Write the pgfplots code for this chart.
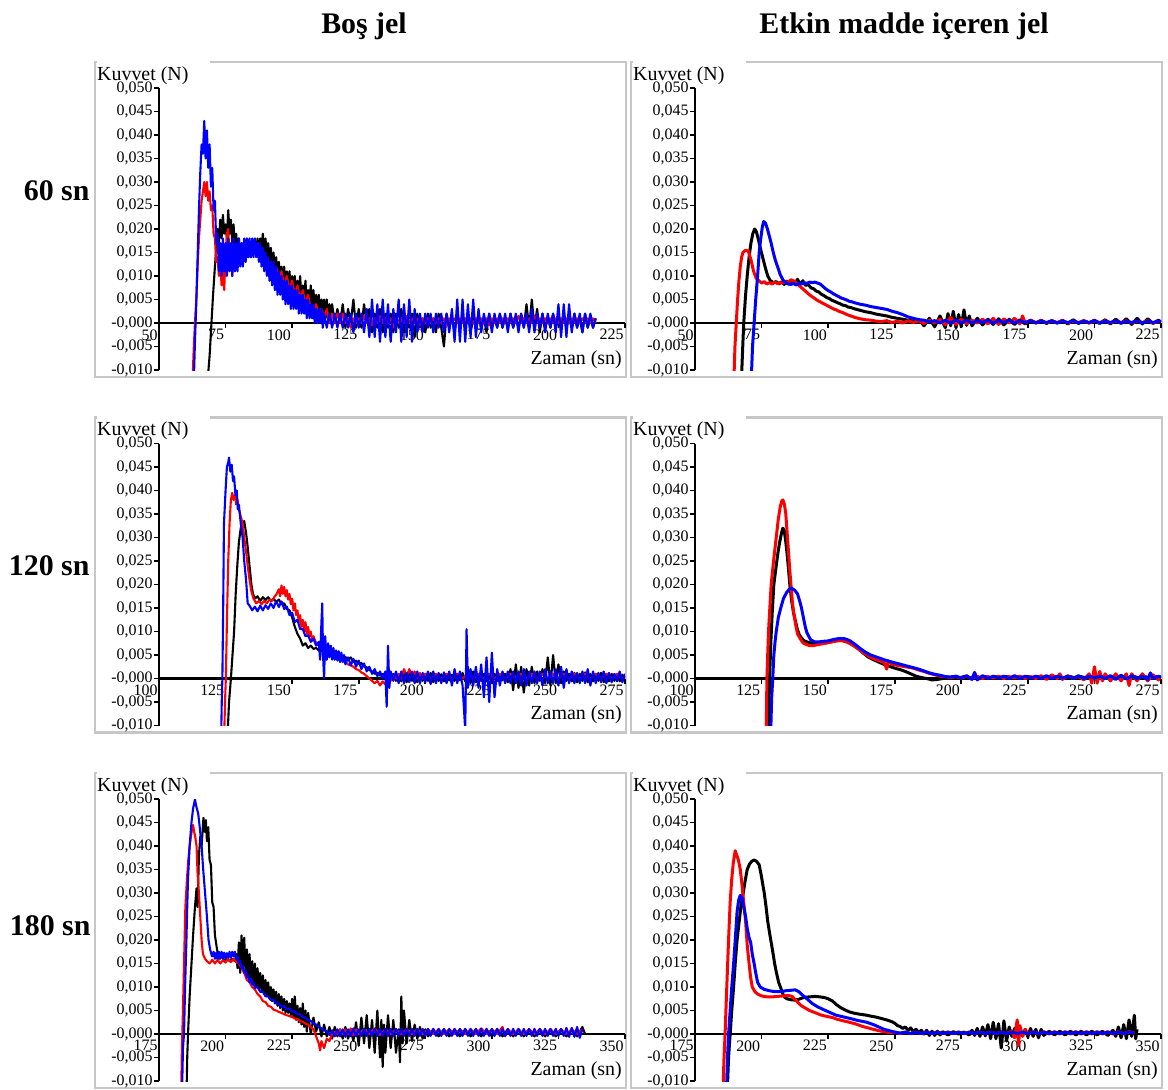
\documentclass[border=0pt]{standalone}
\usepackage{pgfplots}
\pgfplotsset{compat=1.18}
\usepackage{fontspec}
\setmainfont{Liberation Serif}
\pgfplotsset{
 panel/.style={scale only axis, width=466bp, height=282bp, anchor=south west,
  ymin=-10, ymax=50, axis x line=middle, axis y line=left,
  axis line style={-, line width=2.2bp, black},
  hide obscured x ticks=false, hide obscured y ticks=false,
  xtick align=outside, ytick align=outside, major tick length=5bp,
  every tick/.style={black, line width=1.6bp},
  ytick={-10,-5,0,5,10,15,20,25,30,35,40,45,50},
  yticklabels={{-0,010},{-0,005},{-0,000},{0,005},{0,010},{0,015},{0,020},{0,025},{0,030},{0,035},{0,040},{0,045},{0,050}},
  yticklabel style={font=\fontsize{16}{16}\selectfont, anchor=east, inner sep=1.2bp},
  xticklabel style={font=\fontsize{16}{16}\selectfont, anchor=north east, inner sep=1.2bp},
  clip=true},
 kk/.style={black, line width=2.1bp, line join=round},
 rr/.style={red, line width=2.1bp, line join=round},
 bb/.style={blue, line width=2.1bp, line join=round},
 ks/.style={black, line width=3bp, line join=round},
 rs/.style={red, line width=3bp, line join=round},
 bs/.style={blue, line width=3bp, line join=round},
}
\newcommand{\frm}[2]{%
 \draw[black!22, line width=2.5bp] (#1bp,#2bp) rectangle ++(531bp,-315bp);
 \fill[white] ($(#1bp,#2bp)+(1.5bp,1.6bp)$) rectangle ++(113bp,-3.2bp);}
\usetikzlibrary{calc}
\begin{document}
\begin{tikzpicture}
\path (0,0) rectangle (1168bp,-1090bp);
% frames
\frm{95}{-62}\frm{631}{-62}
\frm{95}{-417.5}\frm{631}{-417.5}
\frm{95}{-773}\frm{631}{-773}
% titles
\node[font={\fontsize{30}{36}\selectfont\bfseries}, anchor=base] at (364bp,-33bp) {Boş jel};
\node[font={\fontsize{30}{36}\selectfont\bfseries}, anchor=base] at (904bp,-33bp) {Etkin madde içeren jel};
\node[font={\fontsize{30}{36}\selectfont\bfseries}, anchor=base east] at (93bp,-200bp) {60 sn};
\node[font={\fontsize{30}{36}\selectfont\bfseries}, anchor=base east] at (93bp,-575bp) {120 sn};
\node[font={\fontsize{30}{36}\selectfont\bfseries}, anchor=base east] at (94bp,-935bp) {180 sn};
% axis labels
\foreach \c in {0,536}{
 \foreach \r in {0,355.5,711}{
  \node[font=\fontsize{20}{24}\selectfont, anchor=base west, inner sep=0pt] at ({(97+\c)*1bp},{-(80+\r)*1bp}) {Kuvvet (N)};
  \node[font=\fontsize{20}{24}\selectfont, anchor=base east, inner sep=0pt] at ({(622+\c)*1bp},{-(364+\r)*1bp}) {Zaman (sn)};
 }}
%================ Panel 1 =================
\begin{axis}[panel, at={(159bp,-370bp)}, xmin=50, xmax=225, xtick={50,75,...,225}, xticklabels={50,75,100,125,150,175,200,225}]
\addplot[kk] coordinates {(68,-14)(69,-7)(69.7,0)(70.3,6)(71,12)(71.5,16)(72,20)(72.5,17)(73,22)(73.5,18)(74,23)(74.5,19)(75,21)(75.5,18)(76,24)(76.5,19)(77,22)(77.5,17)(78,21)(78.5,16)(79,19)(79.5,14)(80,18)(80.5,14)(81,17)(81.5,14)(82,17)(82.5,13)(83,16)(83.5,14)(84,17)(84.5,14)(85,17)(85.5,15)(86,17)(86.5,15)(87,18)(87.5,15)(88,18)(88.5,16)(89,19)(89.5,15)(90,18)(90.5,14)(91,17)(91.5,13)(92,16)(92.5,12)(93,15)(93.5,11)(94,14)(94.5,10)(95,13)(95.5,10)(96,12)(96.5,9)(97,12)(97.5,8)(98,11)(98.5,8)(99,11)(99.5,7)(100,10)(100.5,7)(101,10)(101.5,6)(102,9)(102.5,6)(103,10)(103.5,5)(104,8)(104.5,5)(105,9)(105.5,4)(106,7)(106.5,4)(107,8)(107.5,3)(108,7)(108.5,3)(109,6)(109.5,2)(110,6)(110.5,2)(111,5)(111.5,2)(112,5)(112.5,1)(113,5)(113.5,1)(114,4)(114.5,0)(115,4)(116,0)(117,3)(118,0)(119,4)(120,-1)(121,3)(122,0)(123,5)(124,-1)(125,3)(126,-1)(127,4)(128,0)(129,3)(130,-2)(131,2)(132,-1)(133,3)(134,-2)(135,2)(136,-1)(137,2)(138,-2)(139,2)(140,-1)(141,3)(142,-2)(143,1)(144,-1)(145,2)(146,-3)(147,2)(148,-1)(149,1)(150,-2)(151,2)(152,-1)(153,1)(154,-2)(155,2)(156,-1)(157,-5)(158,2)(159,-1)(160,1)(161,-2)(162,2)(163,-1)(164,1)(165,-1)(166,2)(167,-2)(168,1)(169,-1)(170,2)(171,-1)(172,1)(173,-2)(174,2)(175,-1)(176,1)(177,-1)(178,2)(179,-1)(180,1)(181,-1)(182,2)(183,-1)(184,1)(185,-1)(186,2)(187,-1)(188,4)(189,-1)(190,5)(191,-1)(192,3)(193,-2)(194,2)(195,-1)(196,1)(197,-1)(198,2)(199,-1)(200,1)(201,-1)(202,2)(203,-1)(204,1)(205,-1)(206,2)(207,-1)(208,1)(209,-2)(210,2)(211,-1)(212,1)(213,-1)(214,1)};
\addplot[rr] coordinates {(62.5,-14)(63,-6)(63.5,0)(64,5)(64.5,12)(65,18)(65.5,22)(66,26)(66.5,28)(67,30)(67.5,27)(68,30)(68.5,26)(69,28)(69.5,24)(70,25)(70.5,19)(71,18)(71.5,13)(72,14)(72.5,10)(73,13)(73.5,8)(74,12)(74.5,7)(75,15)(75.5,19)(76,20)(76.5,14)(77,16)(77.5,10)(78,14)(78.5,11)(79,15)(79.5,12)(80,16)(80.5,13)(81,16)(81.5,14)(82,17)(82.5,14)(83,17)(83.5,15)(84,17)(84.5,15)(85,17)(85.5,15)(86,17)(86.5,15)(87,17)(87.5,14)(88,16)(88.5,13)(89,15)(89.5,12)(90,14)(91,11)(92,13)(93,10)(94,12)(95,9)(96,11)(97,8)(98,10)(99,7)(100,9)(101,6)(102,8)(103,5)(104,7)(105,4)(106,6)(107,3)(108,1)(109,4)(110,2)(111,3)(112,1)(113,3)(114,0)(115,2)(116,0)(117,2)(118,0)(119,2)(120,0)(121,1)(122,-1)(123,1)(124,0)(125,1)(126,0)(127,1.5)(128,0)(129,1)(130,-0.5)(131,1)(132,0)(133,1.5)(134,0)(135,1)(136,0)(137,1)(138,-1)(139,1)(140,0)(141,1)(142,0)(143,1.5)(144,0)(145,1)(146,0)(147,1)(148,-0.5)(149,1)(150,0)(151,1)(152,0)(153,1)(154,0)(155,1)(156,0)(157,1)(158,-0.5)(159,1)(160,0)(161,1)(162,0)(163,1)(164,0)(165,1)(166,0)(167,1)(168,0)(169,1)(170,0)(171,1)(172,0)(173,1)(174,-0.5)(175,1)(176,0)(177,1)(178,0)(179,1)(180,0)(181,1)(182,0)(183,1)(184,0)(185,1.5)(186,0)(187,1)(188,0)(189,1)(190,0)(191,1.5)(192,0)(193,1)(194,0)(195,1)(196,0)(197,1)(198,0)(199,1)(200,0)(201,1)(202,0)(203,1)(204,0)(205,1)(206,0)(207,1)(208,0)(209,1)(210,0)(211,1)(212,0)(213,1)(214,0)};
\addplot[bb] coordinates {(63,-14)(63.5,-4)(64,4)(64.5,14)(65,24)(65.5,32)(66,38)(66.5,36)(67,43)(67.5,35)(68,41)(68.5,33)(69,38)(69.5,29)(70,33)(70.5,24)(71,26)(71.5,17)(72,19)(72.5,11)(73,17)(73.5,10)(74,18)(74.5,11)(75,17)(75.5,10)(76,18)(76.5,11)(77,17)(77.5,10)(78,18)(78.5,11)(79,17)(79.5,11)(80,18)(80.5,12)(81,17)(81.5,12)(82,18)(82.5,13)(83,18)(83.5,14)(84,18)(84.5,14)(85,18)(85.5,14)(86,18)(86.5,14)(87,17)(87.5,13)(88,17)(88.5,12)(89,16)(89.5,11)(90,15)(90.5,10)(91,14)(91.5,9)(92,13)(92.5,8)(93,13)(93.5,7)(94,12)(94.5,6)(95,11)(95.5,6)(96,10)(96.5,5)(97,9)(97.5,4)(98,9)(98.5,4)(99,8)(99.5,3)(100,8)(100.5,3)(101,7)(101.5,3)(102,7)(102.5,2)(103,6)(103.5,2)(104,6)(104.5,2)(105,5)(105.5,1)(106,5)(106.5,1)(107,4)(107.5,1)(108,4)(108.5,0)(109,3)(109.5,0)(110,3)(110.5,0)(111,3)(111.5,-1)(112,2)(113,-1)(114,2)(115,-1)(116,2)(117,-1)(118,2)(119,-1)(120,2)(121,-1)(122,2)(123,-2)(124,2)(125,-1)(126,2)(127,-2)(128,3)(129,-3)(130,5)(131,-3)(132,4)(133,-4)(134,5)(135,-3)(136,4)(137,-4)(138,3)(139,-2)(140,5)(141,-4)(142,4)(143,-3)(144,5)(145,-4)(146,3)(147,-2)(148,2)(149,-2)(150,2)(151,-1)(152,2)(153,-2)(154,2)(155,-1)(156,2)(157,-2)(158,2)(159,-2)(160,3)(161,-4)(162,5)(163,-4)(164,5)(165,-4)(166,4)(167,-3)(168,5)(169,-3)(170,3)(171,-2)(172,2)(173,-1)(174,2)(175,-2)(176,2)(177,-1)(178,2)(179,-1)(180,2)(181,-2)(182,2)(183,-1)(184,2)(185,-2)(186,2)(187,-1)(188,2)(189,-2)(190,3)(191,-2)(192,2)(193,-1)(194,2)(195,-2)(196,2)(197,-1)(198,2)(199,-2)(200,4)(201,-3)(202,4)(203,-3)(204,4)(205,-2)(206,2)(207,-1)(208,2)(209,-2)(210,2)(211,-1)(212,2)(213,-1)(214,1)};
\end{axis}
%================ Panel 2 =================
\begin{axis}[panel, at={(695bp,-370bp)}, xmin=50, xmax=225, xtick={50,75,...,225}, xticklabels={50,75,100,125,150,175,200,225}]
\addplot[ks] coordinates {(67.3,-14)(68,-4)(68.3,0)(69,6)(69.6,10)(70.3,14)(71,17)(71.7,19)(72.4,20)(73,19.5)(73.7,18)(74.5,16)(75.4,14)(76.3,12)(77.3,10)(78.3,9)(79.5,8.6)(80.5,8.8)(81.5,8.3)(82.5,8.8)(83.5,8.2)(84.5,8.9)(85.5,8.3)(86.5,8.9)(87.5,8.4)(88.5,9.3)(89.5,8.2)(90.5,9)(91.5,8)(92.5,8.2)(93.5,7.5)(94.5,7.3)(95.5,6.8)(96.5,6.6)(97.5,6.1)(98.5,5.8)(99.5,5.4)(100.5,5.2)(101.5,4.8)(102.5,4.6)(103.5,4.3)(104.5,4.1)(105.5,3.8)(106.5,3.7)(107.5,3.4)(108.5,3.3)(110,3)(112,2.7)(114,2.4)(116,2.2)(118,1.9)(120,1.7)(122,1.5)(124,1.2)(126,1)(128,0.8)(130,0.6)(132,0.4)(134,0.8)(136,-0.6)(138,1)(140,-0.8)(142,1.5)(144,-1)(145,2)(146,-0.6)(147,2.5)(148,-1)(149,1.8)(150,-0.8)(151,2.8)(152,-0.5)(153,1.5)(154,-0.6)(156,1)(158,-0.4)(160,0.8)(162,-0.3)(164,0.9)(166,-0.4)(168,0.8)(170,-0.3)(172,0.7)(174,-0.2)(176,0.6)(178,0)(180,0.6)(182,-0.1)(184,0.5)(186,0)(188,0.6)(190,-0.2)(192,0.7)(194,-0.1)(196,0.5)(198,0)(200,0.6)(202,-0.1)(204,0.7)(206,-0.2)(208,0.8)(210,-0.1)(212,0.9)(214,-0.3)(216,1)(218,-0.2)(220,0.9)(222,-0.1)(224,0.6)(225,0.2)};
\addplot[rs] coordinates {(64.5,-14)(65,-5)(65.5,0)(66,5)(66.5,9)(67,12)(67.5,14)(68,15)(69,15.5)(70,15.3)(71,13.5)(72,11)(73,9.5)(74,9)(75,8.5)(76,8.8)(77,8.3)(78,8.6)(79,8.3)(80,8.7)(81,8.4)(82,8.6)(83,8.5)(84,8.8)(85,8.6)(86,9.2)(87,9)(88,8.5)(89,8)(90,7.5)(91,7)(92,6.5)(93,6)(94,5.6)(95,5.2)(96,4.8)(97,4.5)(98,4.2)(99,3.9)(100,3.6)(101,3.3)(102,3)(103,2.8)(104,2.5)(105,2.3)(106,2.1)(107,1.8)(108,1.6)(109,1.4)(110,1.2)(112,0.9)(114,0.7)(116,0.6)(118,0.4)(120,0.3)(122,0.5)(124,0.1)(126,0.4)(128,0)(130,0.5)(132,0.1)(134,0.5)(136,-0.1)(138,0.6)(140,0)(142,0.8)(144,-0.4)(146,1.2)(148,-0.3)(150,0.8)(152,-0.2)(154,0.6)(156,0)(158,0.8)(160,-0.2)(162,1)(164,-0.3)(166,0.9)(168,0)(170,1)(172,-0.2)(173,1.5)(174,0)(176,0.6)(178,0.1)(180,0.5)(182,0)(184,0.4)(186,0.1)(188,0.5)(190,0)(192,0.4)(194,0.1)(196,0.5)(198,0)(200,0.4)(202,0.1)(204,0.5)(206,0)(208,0.4)(210,0.1)(212,0.5)(214,0)(216,0.4)(218,0.1)(220,0.5)(222,0)(224,0.3)(225,0.2)};
\addplot[bs] coordinates {(71,-14)(71.6,-5)(72.2,0)(72.8,5)(73.5,10)(74.1,15)(74.7,18)(75.3,20.5)(75.8,21.6)(76.5,21.2)(77.2,20)(78,18.3)(78.6,17)(79.4,15)(80.2,13.3)(81,12)(82,10.3)(83,9.2)(84,8.6)(85,8.3)(86,8.2)(87,8.4)(88,8.1)(89,8.4)(90,8.3)(91,8.6)(92,8.4)(93,8.7)(94,8.6)(95,8.7)(96,8.5)(97,8.3)(98,7.8)(99,7.3)(100,6.9)(101,6.6)(102,6.2)(103,5.9)(104,5.6)(105,5.3)(106,5.1)(107,4.9)(108,4.6)(109,4.5)(110,4.3)(112,4)(114,3.8)(116,3.5)(118,3.3)(120,3.1)(122,2.9)(124,2.5)(126,2.2)(128,1.8)(130,1.3)(132,1)(134,0.7)(136,0.6)(138,0.2)(140,0.5)(142,0)(144,0.6)(146,-0.1)(148,0.7)(150,0)(152,0.6)(154,0)(156,0.5)(158,0.1)(160,0.6)(162,0)(164,0.5)(166,0.1)(168,0.6)(170,0)(172,0.5)(174,0.1)(176,0.5)(178,0)(180,0.4)(182,0.1)(184,0.5)(186,0)(188,0.4)(190,0.1)(192,0.5)(194,0)(196,0.4)(198,0.1)(200,0.5)(202,0)(204,0.4)(206,0.1)(208,0.5)(210,0)(212,0.4)(214,0.1)(216,0.5)(218,0)(220,0.4)(222,0.1)(224,0.4)(225,0.3)};
\end{axis}
%================ Panel 3 =================
\begin{axis}[panel, at={(159bp,-725.5bp)}, xmin=100, xmax=275, xtick={100,125,...,275}, xticklabels={100,125,150,175,200,225,250,275}]
\addplot[kk] coordinates {(125.6,-14)(126.3,-5)(127,0)(127.6,5)(128.2,10)(128.8,18)(129.4,24)(130,29)(130.7,32)(131.4,33)(132,33.5)(132.7,31)(133.3,28)(134,24)(134.7,20)(135.3,18)(136,17)(137,17.5)(138,16.5)(139,17.3)(140,16.7)(141,17.3)(142,16.5)(143,17)(144,16.3)(145,16.8)(146,15.8)(147,16)(148,14.8)(149,14.5)(150,13)(151,11)(152,9.5)(153,8.5)(154,7)(155,7.5)(156,6.5)(157,7)(158,6.3)(159,6.5)(160,6)(161,5.8)(162,6.3)(163,5.5)(164,6)(165,4.8)(166,5.3)(167,4.5)(168,5)(169,4.2)(170,4.6)(171,4)(172,4.5)(173,3.5)(174,3.8)(175,3.2)(176,3.3)(177,2.6)(178,2.4)(179,1.8)(180,1.5)(181,1)(182,1.2)(183,0.6)(184,1)(185,0.3)(186,0.8)(187,0)(188,1)(189,-0.5)(190,0.8)(191,-0.6)(192,1.2)(193,-0.8)(194,1.5)(195,-0.5)(196,1.3)(197,-0.8)(198,1)(199,-0.5)(200,1)(201,-0.5)(202,1.2)(203,-0.8)(204,1)(205,-0.5)(206,0.9)(207,-0.6)(208,1)(209,-0.4)(210,0.8)(211,-0.5)(212,1)(213,-0.4)(214,1.2)(215,-0.6)(216,2.5)(217,-1)(218,1.5)(219,-0.8)(220,1)(221,-0.5)(222,1)(223,-0.6)(224,0.8)(225,-0.4)(226,1)(227,-0.5)(228,0.8)(229,-0.4)(230,1)(231,-0.8)(232,2)(233,-2.5)(234,3)(235,-2)(236,2.5)(237,-3)(238,2)(239,-1.5)(240,2.5)(241,-1)(242,1.5)(243,-0.5)(244,2)(245,-1)(246,4.5)(247,-1.5)(248,5)(249,-1)(250,3)(251,-1)(252,1.5)(253,-0.5)(254,1)(255,-0.6)(256,1.2)(257,-0.8)(258,1)(259,-0.5)(260,1.3)(261,-0.8)(262,1)(263,-0.6)(264,1)(265,-0.5)(266,1.2)(267,-0.8)(268,1)(269,-0.6)(270,1)(271,-0.5)(272,1)(273,-0.6)(274,0.8)(275,0)};
\addplot[rr] coordinates {(124.4,-14)(124.8,-5)(125.1,0)(125.5,12)(126,25)(126.5,33)(127,38)(127.5,39.5)(128,38)(128.5,39)(129,37)(129.5,38)(130,36)(130.7,34.5)(131.4,33)(132,30)(132.7,27)(133.3,24)(134,21)(134.7,18.5)(135.5,17)(136.5,16)(137.5,16.5)(138.5,15.8)(139.5,16.5)(140.5,16)(141.5,16.8)(142.5,16.5)(143.5,17.5)(144.2,18)(145,19)(145.5,17.5)(146,19.8)(146.5,18)(147,19.5)(147.5,17.5)(148,18.8)(148.5,16.8)(149,18)(149.5,15.8)(150,17)(150.5,14.5)(151,16)(151.5,13.5)(152,14.5)(152.5,12)(153,13.5)(153.5,11)(154,12.5)(154.5,10)(155,12)(155.5,9.5)(156,11)(156.5,9)(157,10)(157.5,8)(158,9)(159,7.5)(160,7)(161,6.5)(162,6.5)(163,5.8)(164,5.5)(165,5)(166,4.8)(167,4.5)(168,4.2)(169,3.8)(170,3.5)(171,3)(172,2.8)(173,2.5)(174,2)(175,1.8)(176,1.3)(177,1)(178,0.5)(179,0)(180,-0.5)(181,-1)(182,-0.5)(183,-1.5)(184,-0.6)(185,-1.3)(186,0)(187,-0.5)(188,0.5)(189,0)(190,1)(191,0)(192,2)(193,0.5)(194,2)(195,0.5)(196,1.5)(197,0)(198,1.2)(199,0)(200,1)(202,0)(204,1)(206,0)(208,1)(210,0)(212,1)(214,0)(216,1)(218,0)(220,1)(222,0)(224,1)(226,0)(228,1)(230,0)(232,1)(234,0)(236,1)(238,0)(240,1)(242,0)(244,1)(246,0)(248,1)(250,0)(252,1)(254,0)(256,1)(258,0)(260,1)(262,0)(264,1)(266,0)(268,1)(270,0)(272,1)(274,0)(275,0.5)};
\addplot[bb] coordinates {(123.3,-14)(123.6,-4)(123.8,0)(124.1,15)(124.4,33)(125,40)(125.5,45)(126,46)(126.3,47)(126.8,44)(127.3,45.5)(127.8,42)(128.2,43)(128.7,39)(129.2,40)(129.6,36)(130,37)(130.7,33)(131.4,30)(132,25)(132.7,21)(133.3,16)(134,15.5)(135,14.5)(136,15.3)(137,14.3)(138,15.5)(139,14.5)(140,15.6)(141,14.8)(142,16)(143,15)(144,16.5)(145,15.2)(146,16.4)(147,14.8)(148,15.3)(149,13.5)(150,14)(151,12)(152,12.5)(153,10.5)(154,10.5)(155,9)(156,9.2)(157,7.8)(158,8.5)(159,7)(160,7.8)(160.5,4)(161,12)(161.3,16)(161.6,5)(162,0)(162.4,9)(163,4)(163.5,7.5)(164,4.5)(164.5,7)(165,4)(165.5,6.5)(166,4)(166.5,6)(167,3.8)(167.5,5.8)(168,3.5)(168.5,5.5)(169,3.5)(169.5,5)(170,3)(171,4.5)(172,2.8)(173,4.2)(174,2.5)(175,3.8)(176,2)(177,3.2)(178,1.5)(179,2.5)(180,1)(181,2)(182,0.5)(183,1.5)(184,0)(185,1.5)(185.5,-6)(186,7)(186.5,-2)(187,1.5)(188,-0.5)(189,1.5)(190,-1)(191,1.5)(192,-1)(193,1.2)(194,-0.8)(195,1.5)(196,-1)(197,1.5)(198,-1)(199,1.2)(200,-0.8)(201,1.5)(202,-1.2)(203,1.5)(204,-1)(205,1.2)(206,-1)(207,1.3)(208,-1)(209,1.5)(210,-1.5)(211,2)(212,-1)(213,1.5)(214,-1.5)(215,-11)(215.5,10.5)(216,-2)(217,2)(218,-1.5)(219,2.5)(220,-2)(221,3)(222,-4)(223,4.5)(224,-5)(225,5.5)(226,-4)(227,2)(228,-1.5)(229,1.5)(230,-1)(231,1.5)(232,-1)(233,1.5)(234,-1)(235,1.5)(236,-1.5)(237,2)(238,-1.5)(239,1.5)(240,-1)(241,1.5)(242,-1)(243,1.5)(244,-1.5)(245,2)(246,-1)(247,1.5)(248,-1)(249,2)(250,-1.5)(251,2.5)(252,-2)(253,2)(254,-1)(255,1.5)(256,-1)(257,1.2)(258,-1)(259,1.5)(260,-1)(261,2)(262,-1.5)(263,1.5)(264,-1)(265,1.2)(266,-0.8)(267,1.5)(268,-1)(269,1.2)(270,-0.8)(271,1)(272,-0.6)(273,1.5)(274,-0.8)(275,1)};
\end{axis}
%================ Panel 4 =================
\begin{axis}[panel, at={(695bp,-725.5bp)}, xmin=100, xmax=275, xtick={100,125,...,275}, xticklabels={100,125,150,175,200,225,250,275}]
\addplot[ks] coordinates {(127.5,-14)(128,0)(128.5,8)(129,14)(129.6,20)(130.5,24)(131.2,27)(131.8,29)(132.5,31)(133,32)(133.5,31.5)(134,29.5)(134.4,27.5)(135,24)(135.6,20)(136.3,16.5)(137,14)(137.8,12)(138.5,10.3)(139.2,9.3)(140,8.6)(141,8)(142,7.8)(143,7.6)(145,7.5)(147,7.6)(149,7.6)(151,7.8)(153,8)(155,8.1)(157,7.8)(159,7.3)(161,6.5)(163,5.5)(165,4.6)(167,4)(169,3.5)(171,3)(173,2.6)(175,2.2)(177,1.9)(179,1.5)(181,1)(183,0.5)(185,0.2)(187,0)(189,-0.3)(191,-0.2)(193,0)(195,0.2)(197,0.4)(199,0.1)(201,0.4)(203,0.1)(205,0.4)(207,0.1)(209,0.4)(211,0.1)(213,0.4)(215,0.1)(217,0.4)(219,0.1)(221,0.4)(223,0.1)(225,0.4)(227,0.1)(229,0.4)(231,0.1)(233,0.4)(235,0.1)(237,0.4)(239,0.1)(241,0.4)(243,0.1)(245,0.4)(247,0.1)(249,0.4)(251,0.1)(253,0.4)(255,0.1)(257,0.4)(259,0.1)(261,0.4)(263,0.1)(265,0.4)(267,0.1)(269,0.4)(271,0.1)(273,0.4)(275,0.2)};
\addplot[rs] coordinates {(126.7,-14)(127,0)(127.3,5)(127.6,10)(128.1,15)(128.6,20)(129.5,25)(130.5,30)(131.3,34)(132,36.5)(132.6,37.8)(133,38)(133.6,37)(134.1,35)(134.6,31)(135.1,27)(135.6,23)(136.1,19.5)(136.6,16)(137.2,13.5)(137.8,11.5)(138.5,9.5)(139.5,8.5)(140.5,7.6)(141.5,7.3)(143,7)(144.5,7)(146,7.2)(148,7.4)(150,7.6)(152,7.9)(154,8.1)(156,8)(158,7.5)(160,6.8)(162,6)(164,5.2)(166,4.5)(168,4)(170,3.6)(171,3.4)(172,2)(172.5,3.8)(174,3)(176,2.8)(178,2.6)(180,2.4)(182,2.2)(184,1.8)(186,1.5)(188,1.1)(190,0.8)(192,0.5)(194,0.4)(196,0.2)(198,0.4)(200,0.1)(202,0.5)(204,0)(206,0.5)(208,0)(210,0.4)(212,0.1)(214,0.5)(216,0)(218,0.4)(220,0.1)(222,0.5)(224,0)(226,0.4)(228,0)(230,0.6)(232,-0.2)(234,0.8)(236,0)(237,1)(238,-0.2)(240,0.6)(242,0)(244,0.5)(246,-0.3)(248,1)(249,-1)(250,2.5)(251,-1)(252,1.5)(253,-0.5)(254,1)(256,-0.5)(258,1)(260,-0.5)(262,1)(263,-1.5)(264,1)(266,-0.5)(268,1)(270,-0.5)(272,0.8)(274,-0.3)(275,0.5)};
\addplot[bs] coordinates {(128.3,-14)(128.8,-4)(129.2,0)(129.6,5)(130.1,8)(130.5,10)(131.3,13)(132.2,15)(133.2,17)(134.4,18.3)(135.4,19)(136.3,19.2)(137.4,18.8)(138.5,18)(139.3,16.5)(140,15)(140.7,13)(141.4,11)(142,9.8)(142.7,9)(143.5,8.2)(145,7.8)(146.5,7.8)(148,7.9)(150,8)(152,8.3)(154,8.5)(156,8.5)(158,8.1)(160,7.3)(162,6.4)(164,5.6)(166,5)(168,4.6)(170,4.2)(172,3.8)(174,3.5)(176,3.2)(178,2.9)(180,2.6)(182,2.3)(184,2)(186,1.6)(188,1.2)(190,0.9)(192,0.7)(194,0.4)(196,0.3)(198,0.5)(200,0.1)(202,0.6)(204,-0.2)(205,1.3)(206,-0.3)(208,0.6)(210,0)(212,0.5)(214,0.1)(216,0.5)(218,0)(220,0.6)(222,0)(224,0.5)(226,0.1)(228,0.5)(230,0)(232,0.6)(234,0)(236,0.5)(238,0.1)(240,0.5)(242,0)(244,0.6)(246,0)(248,0.5)(250,0.1)(252,0.5)(254,0)(256,0.6)(258,-0.2)(260,0.7)(262,-0.1)(264,0.6)(266,0)(268,0.5)(270,-0.2)(271,1.2)(272,0)(274,0.5)(275,0.3)};
\end{axis}
%================ Panel 5 =================
\begin{axis}[panel, at={(159bp,-1081bp)}, xmin=175, xmax=350, xtick={175,200,...,350}, xticklabels={175,200,225,250,275,300,325,350}]
\addplot[kk] coordinates {(185.3,-14)(185.6,-5)(185.9,0)(186.5,8)(187.2,15)(187.8,21)(188.5,27)(189.1,31)(189.5,27)(190,38)(190.5,42)(191,40)(191.7,46)(192.2,43)(192.6,45.5)(193,41)(193.5,44)(194,37)(194.5,36)(195,28)(195.5,27)(196,21)(196.8,18)(197.5,16)(198.5,16.5)(199.5,15.5)(200.5,16.3)(201.5,15.5)(202.5,16)(203.5,15.5)(204,17)(204.5,14)(205,19.5)(205.5,13)(206,21)(206.5,14)(207,20.5)(207.5,13)(208,18)(208.5,12)(209,17)(209.5,11.5)(210,15.5)(210.5,10.5)(211,15)(211.5,10)(212,14)(212.5,9.5)(213,13)(213.5,9)(214,12.5)(214.5,8.5)(215,11.5)(215.5,8)(216,11)(216.5,7.5)(217,10)(217.5,7)(218,9.5)(218.5,6.5)(219,9)(219.5,6)(220,8.5)(220.5,5.5)(221,8)(221.5,5)(222,7.5)(222.5,4.5)(223,7)(223.5,4.5)(224,6.5)(224.5,4)(225,7.5)(225.5,3.5)(226,8)(226.5,3)(227,6)(227.5,2.5)(228,5.5)(228.5,2)(229,6.5)(229.5,1.5)(230,5)(230.5,0.5)(231,4.5)(232,0)(233,3.5)(234,0.5)(235,2.5)(236,-0.5)(237,2)(238,-0.5)(239,1.5)(240,-1)(241,1.5)(242,-0.5)(243,1)(244,-1)(245,1.5)(246,-1)(247,1)(248,-1.5)(249,2.5)(250,-2.5)(251,3.5)(252,-2)(253,4)(254,-3)(255,3)(256,-4)(257,5)(258,-5)(258.5,3)(259,-7)(259.5,2)(260,-4)(261,4)(262,-3)(263,3)(264,-4)(265,1)(265.5,-6)(266,8)(266.5,-2)(267,5)(268,-2)(269,3)(270,-1.5)(271,2)(272,-1)(273,1.5)(274,-1)(275,1)(276,-0.5)(278,1)(280,-0.5)(282,1)(284,-0.5)(286,1)(288,-0.5)(290,1)(292,-0.5)(294,1)(296,-0.5)(298,1)(300,-0.5)(302,1)(304,-0.5)(306,1)(308,-0.5)(310,1)(312,-0.5)(314,1)(316,-0.5)(318,1)(320,-0.5)(322,1)(324,-0.5)(326,1)(328,-0.5)(330,1)(332,-0.5)(334,1.5)(335,0)};
\addplot[rr] coordinates {(183.3,-14)(183.6,-3)(183.9,3)(184.4,15)(184.9,27)(185.5,33)(186,37)(186.5,40)(187,42)(187.5,44)(187.8,44.5)(188.2,43)(188.6,42)(189.1,40)(189.5,34)(190,30)(190.5,25)(191,20)(191.5,17)(192.3,16)(193,15.5)(194,15)(195,15.8)(196,15)(197,15.8)(198,15)(199,15.7)(200,15.2)(201,16)(202,15.3)(203,16)(204,15.3)(205,15)(206,14)(207,13)(208,11.5)(209,11)(210,10)(211,9.5)(212,8.5)(213,8)(214,7)(215,6.8)(216,6)(217,5.8)(218,5.2)(219,5)(220,4.7)(221,4.5)(222,4.2)(223,4)(224,3.8)(225,3.6)(226,3.3)(227,3.2)(228,2.8)(229,2.6)(230,2.2)(231,2)(232,1.5)(233,1)(234,-0.5)(235,-2)(235.5,-3.5)(236,-1.5)(237,-3)(238,-1)(239,-1.5)(240,0)(241,0.5)(242,0)(243,1)(244,0)(245,1)(246,0)(247,1.2)(248,-0.3)(249,1)(250,0)(252,1)(254,0)(256,1.2)(258,-0.2)(260,1)(262,0)(264,1)(266,0)(268,1)(270,0)(272,1)(274,0)(276,1)(278,0)(280,1)(282,0)(284,1)(286,0)(288,1)(290,0)(292,1)(294,0)(296,1.2)(298,0)(300,1)(302,0)(304,1.5)(305,-0.5)(306,1)(308,0)(310,1)(312,0)(314,1)(316,0)(318,1)(320,0)(322,1)(324,0)(326,1)(328,0)(330,1)(332,0)(334,1)};
\addplot[bb] coordinates {(183.6,-14)(184,-3)(184.4,0)(184.8,10)(185.3,20)(185.6,27)(185.9,33)(186.5,40)(187.2,45)(187.8,48)(188.2,49)(188.5,50)(188.8,49)(189.2,48)(189.7,47)(190.3,44)(191,40)(191.6,35)(192.3,30)(193,25)(193.6,20)(194.2,18)(194.9,16.5)(195.5,17.5)(196,16)(196.5,17.3)(197,16)(197.5,17.5)(198,16)(198.5,17.5)(199,16.2)(199.5,17.3)(200,16)(200.5,17.2)(201,16.3)(201.5,17.5)(202,16.2)(202.5,17.5)(203,16.5)(203.5,17.5)(204,16)(204.5,16.5)(205,15)(205.5,15.5)(206,14)(206.5,14.5)(207,13)(207.5,13.5)(208,12)(208.5,12.5)(209,11)(209.5,11.8)(210,10.5)(210.5,11)(211,9.8)(212,10)(213,9)(214,9)(215,8)(216,8)(217,7.2)(218,7.3)(219,6.5)(220,6.5)(221,5.8)(222,6)(223,5.2)(224,5.5)(225,4.8)(226,4.8)(227,4.2)(228,4.2)(229,3.6)(230,3.5)(231,3)(232,2.8)(233,2.3)(234,2)(235,1.5)(236,1.2)(237,0.8)(238,0.6)(239,-0.2)(240,0.8)(241,-0.5)(242,1)(243,-0.5)(244,1)(245,-0.6)(246,1)(247,-0.5)(248,1.2)(249,-0.5)(250,1)(251,-0.4)(252,1.1)(253,-0.4)(254,1.1)(255,-0.4)(256,1.1)(257,-0.4)(258,1.1)(259,-0.4)(260,1.1)(261,-0.4)(262,1.1)(263,-0.4)(264,1.1)(265,-0.4)(266,1.1)(267,-0.4)(268,1.1)(269,-0.4)(270,1.1)(271,-0.4)(272,1.1)(273,-0.4)(274,1.1)(275,-0.4)(276,1.1)(277,-0.4)(278,1.1)(279,-0.4)(280,1.1)(281,-0.4)(282,1.1)(283,-0.4)(284,1.1)(285,-0.4)(286,1.1)(287,-0.4)(288,1.1)(289,-0.4)(290,1.1)(291,-0.4)(292,1.1)(293,-0.4)(294,1.1)(295,-0.4)(296,1.1)(297,-0.4)(298,1.1)(299,-0.4)(300,1.1)(301,-0.4)(302,1.1)(303,-0.4)(304,1.1)(305,-0.4)(306,1.1)(307,-0.4)(308,1.1)(309,-0.4)(310,1.1)(311,-0.4)(312,1.1)(313,-0.4)(314,1.1)(315,-0.4)(316,1.1)(317,-0.4)(318,1.1)(319,-0.4)(320,1.1)(321,-0.4)(322,1.1)(323,-0.4)(324,1.1)(325,-0.4)(326,1.1)(327,-0.4)(328,1.3)(329,-0.6)(330,1.3)(331,-0.6)(332,1.5)(333,-0.8)(334,1)};
\end{axis}
%================ Panel 6 =================
\begin{axis}[panel, at={(695bp,-1081bp)}, xmin=175, xmax=350, xtick={175,200,...,350}, xticklabels={175,200,225,250,275,300,325,350}]
\addplot[ks] coordinates {(187,-14)(187.6,-5)(188.2,0)(188.8,5)(189.5,10)(190.1,15)(190.8,20)(191.6,24)(192.3,27.5)(193.1,30)(193.8,32.5)(194.6,35)(195.5,36.2)(196.4,36.8)(197.2,37)(198,36.8)(199.1,36)(199.8,34)(200.4,32)(201,30)(201.7,27)(202.3,24)(203,21.5)(203.6,19.5)(204.2,17.5)(204.9,15)(205.6,13)(206.4,11)(207.4,9.5)(208,8.5)(208.7,7.8)(209.5,7.5)(211,7.3)(212.5,7.2)(214,7.4)(215,7.6)(216,7.8)(218,7.9)(220,8)(222,7.9)(224,7.7)(225,7.5)(226.7,7)(228,6.3)(230,5.5)(231.8,5)(233,4.7)(235,4.4)(237,4.2)(239.5,4)(241,3.8)(243,3.6)(245,3.3)(247,3)(249,2.6)(250,2.3)(251,1.8)(252,1.6)(253,1.2)(254,1.5)(255,0.8)(256,1.3)(257,0.5)(258,1)(259,0.3)(260,0.8)(261,0)(262,0.8)(263,-0.3)(264,0.6)(265,-0.3)(266,0.6)(267,-0.2)(268,0.5)(270,-0.2)(272,0.5)(274,0)(276,0.4)(278,-0.2)(279,0.8)(280,-0.3)(281,1.2)(282,-0.5)(283,1.5)(284,-0.4)(285,2)(286,-1)(287,2.5)(288,-1)(289,2.2)(290,-3)(291,2.8)(292,-1.5)(293,1.5)(294,-0.5)(295,1.2)(296,-0.5)(297,1)(298,-0.4)(299,1)(300,-0.6)(301,1.2)(302,-0.5)(303,1)(304,-0.8)(305,1)(306,-0.3)(308,0.6)(310,-0.2)(312,0.6)(314,-0.2)(316,0.6)(318,-0.2)(320,0.6)(322,-0.2)(324,0.6)(326,-0.2)(328,0.6)(330,-0.3)(332,0.8)(333,-0.5)(334,1.5)(335,-0.8)(336,2)(337,-1)(338,3)(339,-0.5)(340,4)(340.5,-1)(341,1)};
\addplot[rs] coordinates {(185.4,-14)(185.9,-5)(186.3,0)(186.8,8)(187.2,14)(187.6,20)(188.2,28)(188.8,33)(189.4,36.5)(190.1,39)(190.7,38)(191.3,37)(192,35)(192.6,32)(193.3,28)(194,24)(194.6,19)(195.3,15)(195.9,12)(196.5,10)(197.5,9)(198.5,8.5)(200,8.1)(202,7.9)(204,7.9)(206,8)(208,8.1)(210,8.2)(211.5,8)(212.6,7.3)(214,6.5)(215,6)(216.5,5.5)(218,5)(220.3,4.5)(222,4.1)(224,3.8)(226.7,3.5)(228,3.2)(230,2.9)(233,2.5)(235,2.2)(238,1.6)(240,1.3)(242,1)(244,0.7)(246,0.5)(248,0.3)(250,0.4)(252,0.1)(254,0.4)(256,0.1)(258,0.4)(260,0.1)(262,0.4)(264,0.1)(266,0.4)(268,0.1)(270,0.4)(272,0.1)(274,0.4)(276,0.1)(278,0.4)(280,0.1)(282,0.4)(284,0.1)(286,0.4)(288,0.1)(290,0.4)(292,0.1)(294,0.6)(295,-0.8)(296,3)(296.5,-2.5)(297,1.8)(298,-0.5)(299,1)(300,0)(302,0.5)(304,0)(306,0.5)(308,0)(310,0.5)(312,0)(314,0.5)(316,0)(318,0.5)(320,0)(322,0.5)(324,0)(326,0.5)(328,0)(330,0.5)(332,0)(334,0.5)(336,0)(338,0.5)(340,0.2)};
\addplot[bs] coordinates {(186.7,-14)(187.2,-5)(187.6,0)(188.2,5)(188.8,10)(189.5,15)(190.1,20)(190.8,26)(191.4,28.5)(192,29.5)(192.6,29)(193.3,27)(194,25)(194.6,22.5)(195.3,20.5)(195.9,19.5)(196.5,17)(197.2,15)(197.8,13)(198.5,11)(199.5,10)(201,9.5)(203,9.2)(205,9)(207.4,9)(209,9.2)(211,9.3)(212.6,9.4)(214,9)(215.1,8.4)(217,7.5)(219,6.5)(221,5.8)(224,5)(226,4.5)(228,4)(231.8,3.5)(234,3.2)(236,2.9)(239.5,2.5)(242,2)(244,1.5)(246,1)(248,0.7)(250,0.4)(252,0.2)(254,0.4)(256,0.1)(258,0.4)(260,0.1)(262,0.4)(264,0.1)(266,0.4)(268,0.1)(270,0.4)(272,0.1)(274,0.4)(276,0.1)(278,0.4)(280,0.1)(282,0.4)(284,0.1)(286,0.4)(288,0.1)(290,0.4)(292,0.1)(294,0.4)(296,0.1)(298,0.4)(300,0.1)(302,0.4)(304,0.1)(306,0.4)(308,0.1)(310,0.4)(312,0.1)(314,0.4)(316,0.1)(318,0.4)(320,0.1)(322,0.4)(324,0.1)(326,0.4)(328,0.1)(330,0.4)(332,0.1)(334,0.4)(336,0.1)(338,0.4)(340,0.2)};
\end{axis}
\pgfresetboundingbox
\path[use as bounding box] (0,0) rectangle (1168bp,-1090bp);
\end{tikzpicture}
\end{document}
